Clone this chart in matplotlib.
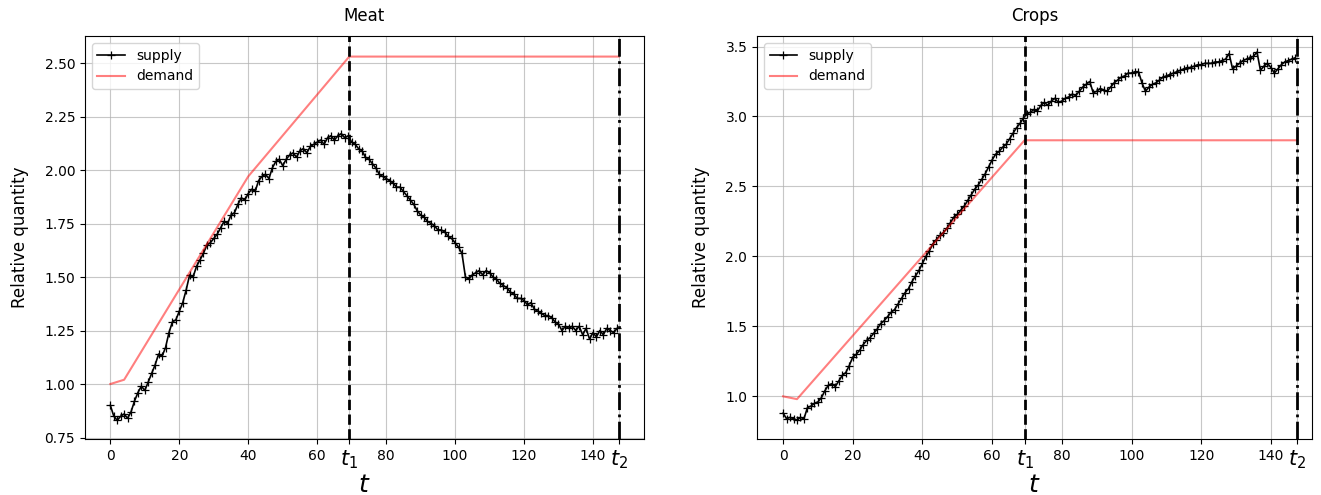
import numpy as np
import matplotlib
matplotlib.use("Agg")
import matplotlib.pyplot as plt

# ---------------- data ----------------
t1 = 69.3
t2 = 147.5
time = list(range(0, 148))

meat_supply = [
    0.90, 0.85, 0.83, 0.85, 0.86, 0.84, 0.87, 0.92, 0.96, 0.99,
    0.97, 1.01, 1.05, 1.09, 1.14, 1.13, 1.17, 1.24, 1.29, 1.30,
    1.34, 1.38, 1.44, 1.51, 1.50, 1.55, 1.58, 1.61, 1.65, 1.66,
    1.68, 1.70, 1.73, 1.76, 1.75, 1.79, 1.80, 1.84, 1.87, 1.86,
    1.89, 1.91, 1.90, 1.95, 1.97, 1.98, 1.96, 2.01, 2.04, 2.05,
    2.02, 2.05, 2.07, 2.08, 2.06, 2.09, 2.10, 2.08, 2.11, 2.12,
    2.13, 2.14, 2.12, 2.15, 2.16, 2.14, 2.16, 2.17, 2.15, 2.16,
    2.13, 2.12, 2.10, 2.09, 2.06, 2.05, 2.03, 2.01, 1.98, 1.97,
    1.96, 1.95, 1.94, 1.92, 1.92, 1.90, 1.88, 1.86, 1.84, 1.81,
    1.79, 1.78, 1.76, 1.75, 1.74, 1.72, 1.72, 1.71, 1.69, 1.68,
    1.66, 1.64, 1.61, 1.50, 1.49, 1.51, 1.52, 1.53, 1.51, 1.53,
    1.52, 1.50, 1.49, 1.47, 1.46, 1.45, 1.43, 1.42, 1.40, 1.40,
    1.39, 1.37, 1.38, 1.35, 1.34, 1.33, 1.32, 1.32, 1.31, 1.29,
    1.28, 1.25, 1.27, 1.26, 1.27, 1.25, 1.27, 1.23, 1.26, 1.21,
    1.24, 1.22, 1.25, 1.23, 1.26, 1.25, 1.24, 1.26,
]
meat_demand_t = [0, 4, 40, t1, t2]
meat_demand = [1.00, 1.02, 1.97, 2.53, 2.53]

crops_supply = [
    0.88, 0.84, 0.85, 0.84, 0.83, 0.85, 0.84, 0.92, 0.93, 0.95,
    0.96, 0.99, 1.04, 1.08, 1.09, 1.07, 1.11, 1.15, 1.17, 1.22,
    1.28, 1.30, 1.33, 1.37, 1.40, 1.42, 1.45, 1.48, 1.52, 1.54,
    1.57, 1.60, 1.62, 1.66, 1.70, 1.74, 1.77, 1.82, 1.86, 1.90,
    1.95, 2.00, 2.04, 2.09, 2.12, 2.15, 2.17, 2.20, 2.24, 2.28,
    2.30, 2.33, 2.36, 2.40, 2.44, 2.48, 2.51, 2.55, 2.59, 2.64,
    2.69, 2.73, 2.75, 2.78, 2.80, 2.84, 2.88, 2.92, 2.95, 2.99,
    3.02, 3.03, 3.05, 3.04, 3.08, 3.10, 3.08, 3.11, 3.13, 3.10,
    3.11, 3.13, 3.14, 3.16, 3.15, 3.18, 3.21, 3.23, 3.25, 3.17,
    3.18, 3.20, 3.19, 3.18, 3.21, 3.24, 3.26, 3.28, 3.29, 3.31,
    3.31, 3.32, 3.32, 3.24, 3.18, 3.21, 3.23, 3.24, 3.26, 3.28,
    3.29, 3.30, 3.31, 3.32, 3.33, 3.34, 3.35, 3.35, 3.36, 3.37,
    3.37, 3.38, 3.38, 3.38, 3.39, 3.39, 3.40, 3.41, 3.45, 3.34,
    3.36, 3.38, 3.40, 3.41, 3.42, 3.43, 3.46, 3.33, 3.36, 3.38,
    3.35, 3.31, 3.34, 3.37, 3.39, 3.40, 3.41, 3.42,
]
crops_demand_t = [0, 4, t1, t2]
crops_demand = [1.00, 0.98, 2.83, 2.83]

tick_pos = [0, 20, 40, 60, t1, 80, 100, 120, 140, t2]
tick_lab = ["0", "20", "40", "60", "$t_1$", "80", "100", "120", "140", "$t_2$"]

# ---------------- figure ----------------
fig = plt.figure(figsize=(13.21, 4.95), dpi=100)
ax1 = fig.add_axes([0.0643, 0.1131, 0.4232, 0.8141])
ax2 = fig.add_axes([0.5731, 0.1131, 0.4201, 0.8141])

panels = [
    (ax1, "Meat", meat_supply, meat_demand_t, meat_demand, (0.743, 2.626),
     (-7.37, 154.8), [0.75, 1.00, 1.25, 1.50, 1.75, 2.00, 2.25, 2.50], "{:.2f}"),
    (ax2, "Crops", crops_supply, crops_demand_t, crops_demand, (0.695, 3.575),
     (-7.46, 151.8), [1.0, 1.5, 2.0, 2.5, 3.0, 3.5], "{:.1f}"),
]

for ax, title, sup, dt, dem, ylim, xlim, yt, fmt in panels:
    ax.plot(time, sup, color="black", marker="+", markersize=5.5,
            markeredgewidth=0.9, linewidth=1.2, label="supply")
    ax.plot(dt, dem, color="red", alpha=0.5, linewidth=1.5, label="demand")
    ax.axvline(t1, color="black", linestyle="--", linewidth=2)
    ax.axvline(t2, color="black", linestyle="-.", linewidth=2)
    ax.set_xlim(*xlim)
    ax.set_ylim(*ylim)
    ax.set_xticks(tick_pos)
    ax.set_xticklabels(tick_lab)
    for lab in ax.get_xticklabels():
        if lab.get_text().startswith("$"):
            lab.set_fontsize(15)
        else:
            lab.set_fontsize(10)
    ax.set_yticks(yt)
    ax.set_yticklabels([fmt.format(v) for v in yt], fontsize=10)
    ax.grid(True, color="#b0b0b0", alpha=0.7, linewidth=0.8)
    ax.set_title(title, fontsize=12, pad=11)
    ax.set_xlabel("$t$", fontsize=18, labelpad=1)
    ax.set_ylabel("Relative quantity", fontsize=12, labelpad=11)
    ax.legend(loc="upper left", fontsize=10)

fig.savefig("out.png", dpi=100)
